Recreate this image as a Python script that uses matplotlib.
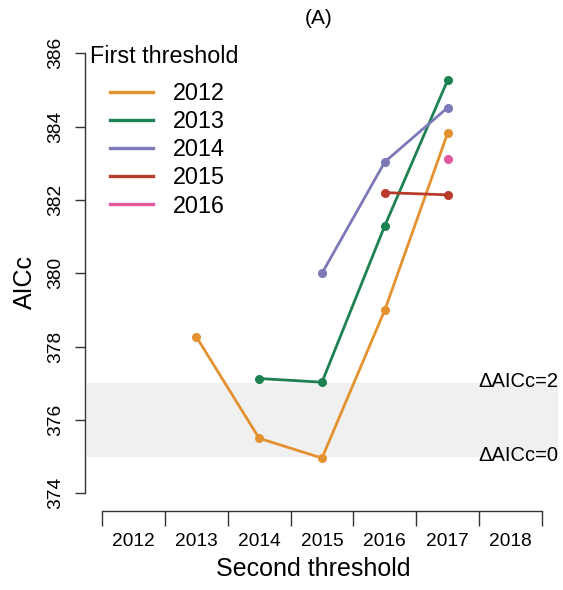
import matplotlib.pyplot as plt
from matplotlib.lines import Line2D

plt.rcParams["font.family"] = ["Liberation Sans", "DejaVu Sans"]

## Data
second_years = [2012, 2013, 2014, 2015, 2016, 2017, 2018]
first_years = [2012, 2013, 2014, 2015, 2016]
x_2012 = [2013, 2014, 2015, 2016, 2017]
aicc_2012 = [378.27, 375.50, 374.96, 379.00, 383.83]
x_2013 = [2014, 2015, 2016, 2017]
aicc_2013 = [377.13, 377.03, 381.30, 385.27]
x_2014 = [2015, 2016, 2017]
aicc_2014 = [380.00, 383.04, 384.52]
x_2015 = [2016, 2017]
aicc_2015 = [382.20, 382.14]
x_2016 = [2017]
aicc_2016 = [383.11]
best_aicc = 375.0
delta_lines = [0, 2]
colors = ["#E3922F", "#1E8152", "#7D79B8", "#B83B2C", "#E4579C"]

series = [
    (x_2012, aicc_2012),
    (x_2013, aicc_2013),
    (x_2014, aicc_2014),
    (x_2015, aicc_2015),
    (x_2016, aicc_2016),
]

W, H = 563, 590
fig = plt.figure(figsize=(W / 100, H / 100), dpi=100)
# axes box in pixels: left 85, right 542, top 53.3, bottom 511
ax = fig.add_axes([85 / W, 1 - 511 / H, (542 - 85) / W, (511 - 53.3) / H])

first = second_years[0]
pos = lambda xs: [x - first + 1 for x in xs]
n = len(second_years)
ax.set_xlim(0.2296, n + 0.5)
ax.set_ylim(373.517, 386)

# shaded dAICc band, runs past the right end of the axis
x_right = n + 0.754
ax.fill_between([0.26, x_right], best_aicc + delta_lines[0], best_aicc + delta_lines[1],
                color="#F0F0F0", lw=0, zorder=0, clip_on=False)
for d in delta_lines:
    ax.annotate("\u0394AICc=%d" % d, xy=(x_right, best_aicc + d), xytext=(0, -3),
                textcoords="offset points", ha="right", va="baseline",
                fontsize=14.5, annotation_clip=False)

for (xs, ys), c in zip(series, colors):
    ax.plot(pos(xs), ys, color=c, lw=2.0, marker="o", ms=5.5, zorder=3, clip_on=False)

# axes in R style
for s in ["top", "right"]:
    ax.spines[s].set_visible(False)
ax.spines["left"].set_bounds(374, 386)
ax.spines["bottom"].set_bounds(0.5, n + 0.5)
for s in ["left", "bottom"]:
    ax.spines[s].set_linewidth(1.0)
    ax.spines[s].set_color("#333333")

ax.set_yticks([374, 376, 378, 380, 382, 384, 386])
ax.tick_params(axis="y", length=7, width=1.0, color="#333333", pad=8, labelsize=13.8)
for lab in ax.get_yticklabels():
    lab.set_rotation(90)
    lab.set_va("center")

ax.set_xticks([i + 0.5 for i in range(n + 1)])
ax.set_xticklabels([])
ax.set_xticks(range(1, n + 1), minor=True)
ax.set_xticklabels([str(y) for y in second_years], minor=True)
ax.tick_params(axis="x", which="major", length=10.5, width=1.0, color="#333333")
ax.tick_params(axis="x", which="minor", length=0, pad=16, labelsize=13.8)

ax.set_xlabel("Second threshold", fontsize=18, labelpad=5)
ax.set_ylabel("AICc", fontsize=18, labelpad=7)

fig.text(319 / W, 1 - 18 / H, "(A)", ha="center", va="center", fontsize=15)

# legend
fig.text(90 / W, 1 - 56.7 / H, "First threshold", ha="left", va="center", fontsize=16.8)
handles = [Line2D([], [], color=c, lw=2.4) for c in colors]
fig.legend(handles, [str(y) for y in first_years], loc="upper left",
           bbox_to_anchor=(110 / W, 1 - 82 / H), frameon=False, fontsize=16.8,
           handlelength=1.85, handletextpad=0.85, labelspacing=0.22,
           borderpad=0, borderaxespad=0)

fig.savefig("out.png", dpi=100)
